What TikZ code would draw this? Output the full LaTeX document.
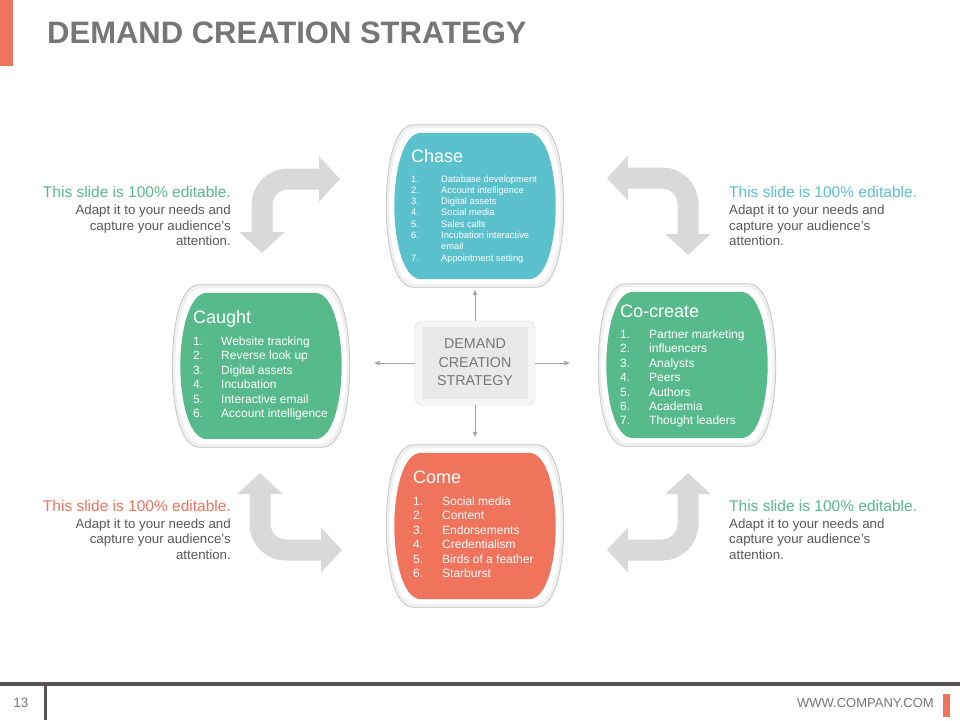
\documentclass[tikz,border=0pt]{standalone}
\usepackage{fontspec}
\setmainfont{Liberation Sans}
\usepackage{tikz}
\usetikzlibrary{arrows.meta,calc}
\definecolor{chaseteal}{RGB}{91,193,204}
\definecolor{leafgreen}{RGB}{87,186,139}
\definecolor{coral}{RGB}{240,115,92}
\definecolor{arrowgray}{RGB}{217,217,217}
\definecolor{titlegray}{RGB}{118,118,118}
\definecolor{textgray}{RGB}{89,89,89}
\definecolor{linkgray}{RGB}{166,166,166}
\definecolor{footgray}{RGB}{88,84,84}

% barrel outline round a panel node: #1 node, #2 inset, #3 path options
\newcommand{\barrel}[3]{%
  \path[#3] let \p1=(#1.north west), \p2=(#1.south east) in
    ({\x1+#2+27pt},{\y1-#2}) -- ({\x2-#2-27pt},{\y1-#2})
    .. controls ({\x2-#2-7pt},{\y1-#2}) and ({\x2-#2},{\y1-#2-44pt}) .. ({\x2-#2},{(\y1+\y2)/2})
    .. controls ({\x2-#2},{\y2+#2+44pt}) and ({\x2-#2-7pt},{\y2+#2}) .. ({\x2-#2-27pt},{\y2+#2})
    -- ({\x1+#2+27pt},{\y2+#2})
    .. controls ({\x1+#2+7pt},{\y2+#2}) and ({\x1+#2},{\y2+#2+44pt}) .. ({\x1+#2},{(\y1+\y2)/2})
    .. controls ({\x1+#2},{\y1-#2-44pt}) and ({\x1+#2+7pt},{\y1-#2}) .. cycle;
}

\begin{document}
\begin{tikzpicture}[x=1pt, y=-1pt,
  panel/.style={minimum width=177pt, minimum height=162pt, inner sep=0pt},
  rim/.style={fill=gray!12, draw=gray!45, line width=0.8pt},
  shade/.style={fill=black!10, xshift=1.5pt, yshift=-2.5pt},
  head/.style={anchor=base west, inner sep=0pt, text=white, font=\fontsize{18}{21}\selectfont},
  items/.style={anchor=base west, inner sep=0pt, text=white, font=\fontsize{12}{14.4}\selectfont},
  turnarrow/.style={draw=arrowgray, line width=21pt, rounded corners=26pt, arrows={Triangle[width=44pt,length=21pt]-Triangle[width=44pt,length=21pt]}},
  link/.style={draw=linkgray, line width=1pt, -{Latex[length=6pt,width=5pt]}},
  notehead/.style={inner sep=0pt, font=\fontsize{15.5}{18}\selectfont},
  notebody/.style={inner sep=0pt, text=textgray, font=\fontsize{13.3}{15.5}\selectfont}
]
\fill[white] (0,0) rectangle (960,720);
\useasboundingbox (0,0) rectangle (960,720);

% Title and footer
\fill[coral] (0,0) rectangle (13,66);
\node[anchor=base west, inner sep=0pt, text=titlegray, font=\fontsize{31}{36}\selectfont\bfseries] (title) at (47,43) {DEMAND CREATION STRATEGY};
\draw[footgray, line width=4pt] (0,684) -- (960,684);
\draw[footgray, line width=3pt] (45,684) -- (45,720);
\node[text=titlegray, font=\fontsize{13.5}{16}\selectfont] (pageno) at (21,703) {13};
\node[anchor=east, inner sep=0pt, text=titlegray, font=\fontsize{13}{16}\selectfont] (site) at (934,703) {WWW.COMPANY.COM};
\fill[coral] (943,694) rectangle (950,717);

% Panels
\node[panel] (chase) at (475,206) {};
\node[panel] (caught) at (261,366) {};
\node[panel] (cocreate) at (687,365) {};
\node[panel] (come) at (475,526) {};

\barrel{chase}{0pt}{shade}
\barrel{chase}{0pt}{rim}
\barrel{chase}{3pt}{fill=white}
\barrel{chase}{8pt}{fill=chaseteal}
\barrel{caught}{0pt}{shade}
\barrel{caught}{0pt}{rim}
\barrel{caught}{3pt}{fill=white}
\barrel{caught}{8pt}{fill=leafgreen}
\barrel{cocreate}{0pt}{shade}
\barrel{cocreate}{0pt}{rim}
\barrel{cocreate}{3pt}{fill=white}
\barrel{cocreate}{8pt}{fill=leafgreen}
\barrel{come}{0pt}{shade}
\barrel{come}{0pt}{rim}
\barrel{come}{3pt}{fill=white}
\barrel{come}{8pt}{fill=coral}

% Panel texts
\node[head] (chase-t) at (411,162) {Chase};
\node[items, font=\fontsize{9.3}{11.3}\selectfont] (chase-l) at (411,182) {\begin{tabular}[t]{@{}p{30pt}@{}l@{}}
1. & Database development\\
2. & Account intelligence\\
3. & Digital assets\\
4. & Social media\\
5. & Sales calls\\
6. & Incubation interactive\\
   & email\\
7. & Appointment setting
\end{tabular}};

\node[head] (caught-t) at (193,323) {Caught};
\node[items] (caught-l) at (193,345.5) {\begin{tabular}[t]{@{}p{28pt}@{}l@{}}
1. & Website tracking\\
2. & Reverse look up\\
3. & Digital assets\\
4. & Incubation\\
5. & Interactive email\\
6. & Account intelligence
\end{tabular}};

\node[head] (cocreate-t) at (620,317) {Co-create};
\node[items] (cocreate-l) at (620,338.5) {\begin{tabular}[t]{@{}p{29pt}@{}l@{}}
1. & Partner marketing\\
2. & influencers\\
3. & Analysts\\
4. & Peers\\
5. & Authors\\
6. & Academia\\
7. & Thought leaders
\end{tabular}};

\node[head] (come-t) at (413,483) {Come};
\node[items] (come-l) at (413,505.5) {\begin{tabular}[t]{@{}p{29pt}@{}l@{}}
1. & Social media\\
2. & Content\\
3. & Endorsements\\
4. & Credentialism\\
5. & Birds of a feather\\
6. & Starburst
\end{tabular}};

% Centre box
\node[draw=gray!30, fill=gray!8, rounded corners=7pt, minimum width=120pt, minimum height=84pt] (core) at (475,363) {};
\node[fill=gray!17, minimum width=106pt, minimum height=72pt, align=center, text=titlegray, font=\fontsize{14.3}{18.5}\selectfont] (core-t) at (475,362.5) {DEMAND\\CREATION\\STRATEGY};

% Connections
\draw[link, shorten >=2pt] (core) -- (chase);
\draw[link, shorten >=7pt] (core) -- (come);
\draw[link, shorten >=24pt] (core.west) -- (core.west -| caught.east);
\draw[link, shorten >=28pt] (core.east) -- (core.east -| cocreate.west);

% Bent arrows
\coordinate (tl-a) at (262,253);
\coordinate (tl-b) at (340,179);
\coordinate (tr-a) at (607,178);
\coordinate (tr-b) at (688,255);
\coordinate (bl-a) at (260,473);
\coordinate (bl-b) at (342,550);
\coordinate (br-a) at (688,473);
\coordinate (br-b) at (607,550);
\draw[turnarrow] (tl-a) |- (tl-b);
\draw[turnarrow] (tr-a) -| (tr-b);
\draw[turnarrow] (bl-a) |- (bl-b);
\draw[turnarrow] (br-a) |- (br-b);

% Side notes
\node[notehead, anchor=base east, text=leafgreen] (tl-h) at (231,197) {This slide is 100\% editable.};
\node[notebody, anchor=base east] (tl-n) at (231,214.5) {\begin{tabular}[t]{@{}r@{}}Adapt it to your needs and\\capture your audience's\\attention.\end{tabular}};
\node[notehead, anchor=base west, text=chaseteal] (tr-h) at (729,197) {This slide is 100\% editable.};
\node[notebody, anchor=base west] (tr-n) at (729,214.5) {\begin{tabular}[t]{@{}l@{}}Adapt it to your needs and\\capture your audience's\\attention.\end{tabular}};
\node[notehead, anchor=base east, text=coral] (bl-h) at (231,511) {This slide is 100\% editable.};
\node[notebody, anchor=base east] (bl-n) at (231,528) {\begin{tabular}[t]{@{}r@{}}Adapt it to your needs and\\capture your audience's\\attention.\end{tabular}};
\node[notehead, anchor=base west, text=leafgreen] (br-h) at (729,511) {This slide is 100\% editable.};
\node[notebody, anchor=base west] (br-n) at (729,528) {\begin{tabular}[t]{@{}l@{}}Adapt it to your needs and\\capture your audience's\\attention.\end{tabular}};

\end{tikzpicture}
\end{document}
